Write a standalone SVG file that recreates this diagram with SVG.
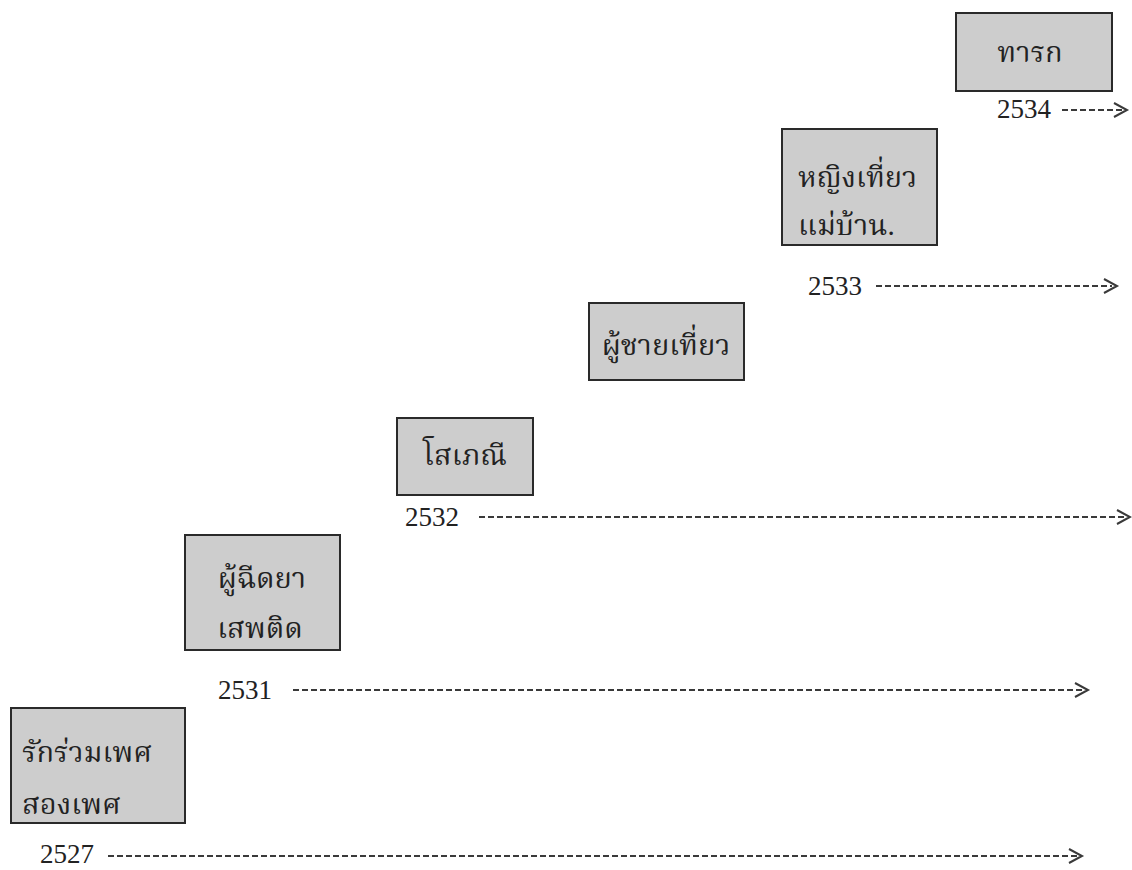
<svg xmlns="http://www.w3.org/2000/svg" width="1132" height="870" viewBox="0 0 1132 870">
<style>
.box{fill:#cdcdcd;stroke:#2a2a2a;stroke-width:2}
.t{font-family:"Liberation Serif","Noto Serif Thai","Noto Sans Thai",serif;font-size:29px;fill:#222}
.y{font-family:"Liberation Serif",serif;font-size:27px;fill:#222}
.arr{fill:none;stroke:#3a3a3a;stroke-width:2;stroke-dasharray:6 3}
.hd{fill:none;stroke:#3a3a3a;stroke-width:2}
</style>
<rect width="1132" height="870" fill="#fff"/>
<g id="n-tarok"><rect class="box" x="956" y="13" width="156" height="78"/><text class="t" x="1030" y="62" text-anchor="middle">ทารก</text></g>
<g id="n-women"><rect class="box" x="782" y="129" width="155" height="116"/><text class="t" x="798" y="187">หญิงเที่ยว</text><text class="t" x="798" y="235">แม่บ้าน.</text></g>
<g id="n-men"><rect class="box" x="589" y="303" width="155" height="77"/><text class="t" x="666" y="355" text-anchor="middle">ผู้ชายเที่ยว</text></g>
<g id="n-sw"><rect class="box" x="397" y="418" width="136" height="77"/><text class="t" x="465" y="465" text-anchor="middle">โสเภณี</text></g>
<g id="n-idu"><rect class="box" x="185" y="535" width="155" height="115"/><text class="t" x="262" y="588" text-anchor="middle">ผู้ฉีดยา</text><text class="t" x="260" y="638" text-anchor="middle">เสพติด</text></g>
<g id="n-msm"><rect class="box" x="11" y="708" width="174" height="115"/><text class="t" x="22" y="762">รักร่วมเพศ</text><text class="t" x="22" y="814">สองเพศ</text></g>
<g id="years">
<text class="y" x="997" y="118">2534</text>
<text class="y" x="808" y="295">2533</text>
<text class="y" x="405" y="526">2532</text>
<text class="y" x="218" y="699">2531</text>
<text class="y" x="40" y="863">2527</text>
</g>
<g id="connectors">
<line class="arr" x1="1062" y1="110" x2="1122" y2="110"/><path class="hd" d="M1114 103 L1127 110 L1114 117"/>
<line class="arr" x1="876" y1="286" x2="1112" y2="286"/><path class="hd" d="M1104 279 L1117 286 L1104 293"/>
<line class="arr" x1="479" y1="517" x2="1125" y2="517"/><path class="hd" d="M1117 510 L1130 517 L1117 524"/>
<line class="arr" x1="293" y1="690" x2="1083" y2="690"/><path class="hd" d="M1075 683 L1088 690 L1075 697"/>
<line class="arr" x1="108" y1="856" x2="1077" y2="856"/><path class="hd" d="M1069 849 L1082 856 L1069 863"/>
</g>
</svg>
